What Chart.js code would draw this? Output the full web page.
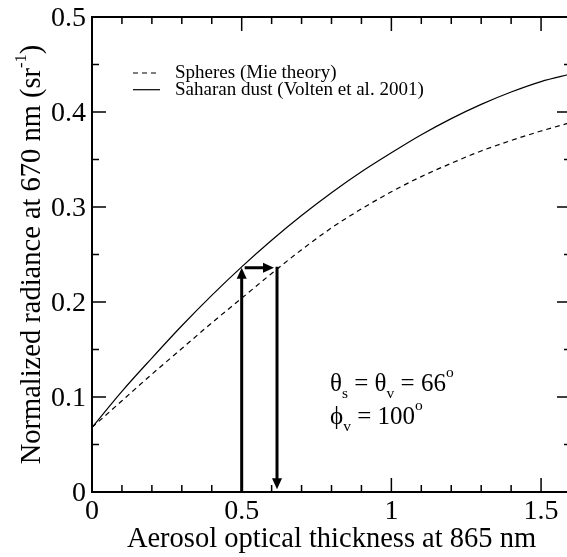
<!DOCTYPE html>
<html>
<head>
<meta charset="utf-8">
<script src="https://cdn.jsdelivr.net/npm/chart.js@4"></script>
<style>
  html, body { margin: 0; padding: 0; background: #fff; overflow: hidden; }
  #wrap { width: 575px; height: 557px; }
</style>
</head>
<body>
<div id="wrap"><canvas id="myChart"></canvas></div>
<script>
// aerosol optical thickness (x) and normalized radiance (y)
const aot = [0, 0.1, 0.2, 0.3, 0.4, 0.5, 0.6, 0.7, 0.8, 0.9, 1.0, 1.1, 1.2, 1.3, 1.4, 1.5, 1.6];
const spheres = [0.068, 0.096, 0.124, 0.151, 0.178, 0.204, 0.230, 0.255, 0.278, 0.298, 0.316, 0.332, 0.346, 0.359, 0.370, 0.380, 0.389];
const saharan = [0.068, 0.106, 0.141, 0.175, 0.207, 0.237, 0.265, 0.291, 0.315, 0.337, 0.357, 0.376, 0.393, 0.408, 0.421, 0.432, 0.440];
const seriesLabels = ['Spheres (Mie theory)', 'Saharan dust (Volten et al. 2001)'];

const xTicks = [0, 0.5, 1, 1.5];
const xTickLabels = ['0', '0.5', '1', '1.5'];
const yTicks = [0, 0.1, 0.2, 0.3, 0.4, 0.5];
const yTickLabels = ['0', '0.1', '0.2', '0.3', '0.4', '0.5'];

// retrieval arrows: up at tau=0.5 to dust curve, across to spheres curve, back down
const arrowX = [0.5, 0.618];
const arrowTop = 0.236;
const arrowBottom = 0.003;

// text is set at a small base size and scaled up, so large glyphs keep their serifs
const BASE = 16;
const FAMILY = '"Liberation Serif", serif';

function text(ctx, str, x, y, size, align) {
    ctx.save();
    ctx.translate(x, y);
    ctx.scale(size / BASE, size / BASE);
    ctx.font = BASE + 'px ' + FAMILY;
    ctx.textAlign = align || 'left';
    ctx.textBaseline = 'alphabetic';
    ctx.fillText(str, 0, 0);
    ctx.restore();
}

function textWidth(ctx, str, size) {
    ctx.save();
    ctx.font = BASE + 'px ' + FAMILY;
    const w = ctx.measureText(str).width * size / BASE;
    ctx.restore();
    return w;
}

function drawRich(ctx, x, y, parts, size) {
    let cx = x;
    for (const p of parts) {
        const s = (p.sub || p.sup) ? size * (p.scale || 0.62) : size;
        const dy = p.sub ? size * 0.28 : p.sup ? -size * (p.rise || 0.55) : 0;
        text(ctx, p.t, cx, y + dy, s);
        cx += textWidth(ctx, p.t, s);
    }
    return cx - x;
}

function richWidth(ctx, parts, size) {
    return parts.reduce((w, p) => w + textWidth(ctx, p.t, (p.sub || p.sup) ? size * (p.scale || 0.62) : size), 0);
}

function arrowHead(ctx, tx, ty, dx, dy) {
    const len = 11, half = 5;
    const bx = tx - dx * len, by = ty - dy * len;
    ctx.beginPath();
    ctx.moveTo(tx, ty);
    ctx.lineTo(bx - dy * half, by + dx * half);
    ctx.lineTo(bx + dy * half, by - dx * half);
    ctx.closePath();
    ctx.fill();
}

const arrows = {
    id: 'arrows',
    afterDatasetsDraw(chart) {
        const { ctx, scales: { x, y } } = chart;
        const x1 = x.getPixelForValue(arrowX[0]);
        const x2 = x.getPixelForValue(arrowX[1]);
        const yt = y.getPixelForValue(arrowTop);
        const y0 = y.getPixelForValue(0);
        const yb = y.getPixelForValue(arrowBottom);
        ctx.save();
        ctx.strokeStyle = '#000';
        ctx.fillStyle = '#000';
        ctx.lineWidth = 3;
        ctx.beginPath();
        ctx.moveTo(x1, y0);
        ctx.lineTo(x1, yt + 9);
        ctx.moveTo(x1 + 3, yt);
        ctx.lineTo(x2 - 12, yt);
        ctx.moveTo(x2, yt - 1);
        ctx.lineTo(x2, yb - 9);
        ctx.stroke();
        arrowHead(ctx, x1, yt, 0, -1);
        arrowHead(ctx, x2 - 3, yt, 1, 0);
        arrowHead(ctx, x2, yb, 0, 1);
        ctx.restore();
    }
};

const frame = {
    id: 'frame',
    afterDraw(chart) {
        const { ctx, chartArea: { left, right, top, bottom }, scales: { x, y } } = chart;
        ctx.save();
        ctx.strokeStyle = '#000';
        ctx.fillStyle = '#000';

        // ticks, inward on all four sides
        ctx.lineWidth = 1.5;
        ctx.beginPath();
        for (let i = 0; i <= 16; i++) {
            const px = x.getPixelForValue(i / 10);
            const len = i % 5 === 0 ? 14 : 7;
            ctx.moveTo(px, bottom); ctx.lineTo(px, bottom - len);
            ctx.moveTo(px, top); ctx.lineTo(px, top + len);
        }
        for (let i = 0; i <= 10; i++) {
            const py = y.getPixelForValue(i * 0.05);
            const len = i % 2 === 0 ? 14 : 7;
            ctx.moveTo(left, py); ctx.lineTo(left + len, py);
            ctx.moveTo(right, py); ctx.lineTo(right - len, py);
        }
        ctx.stroke();

        ctx.lineWidth = 2;
        ctx.strokeRect(left, top, right - left, bottom - top);

        // tick labels
        xTicks.forEach((v, i) => text(ctx, xTickLabels[i], x.getPixelForValue(v), bottom + 27, 28, 'center'));
        yTicks.forEach((v, i) => text(ctx, yTickLabels[i], left - 6, y.getPixelForValue(v) + 9, 28, 'right'));

        // axis titles
        text(ctx, 'Aerosol optical thickness at 865 nm', (left + right) / 2, 547, 28.5, 'center');

        const yTitle = [
            { t: 'Normalized radiance at 670 nm (sr' },
            { t: '-1', sup: true, scale: 0.58, rise: 0.5 },
            { t: ')' }
        ];
        const w = richWidth(ctx, yTitle, 28.5);
        ctx.save();
        ctx.translate(40, (top + bottom) / 2);
        ctx.rotate(-Math.PI / 2);
        drawRich(ctx, -w / 2, 0, yTitle, 28.5);
        ctx.restore();

        // legend
        chart.data.datasets.forEach((ds, i) => {
            const ly = 73 + i * 16.7;
            ctx.lineWidth = 1.2;
            ctx.setLineDash(ds.borderDash || []);
            ctx.beginPath();
            ctx.moveTo(133, ly);
            ctx.lineTo(160, ly);
            ctx.stroke();
            ctx.setLineDash([]);
            text(ctx, ds.label, 175, ly + 5, 19);
        });

        // viewing geometry note
        drawRich(ctx, 330, 391, [
            { t: 'θ' }, { t: 's', sub: true }, { t: ' = θ' }, { t: 'v', sub: true },
            { t: ' = 66' }, { t: 'o', sup: true }
        ], 25);
        drawRich(ctx, 330, 424, [
            { t: 'ϕ' }, { t: 'v', sub: true }, { t: ' = 100' }, { t: 'o', sup: true }
        ], 25);

        ctx.restore();
    }
};

const chart = new Chart(document.getElementById('myChart'), {
    type: 'line',
    data: {
        datasets: [{
            label: seriesLabels[0],
            data: aot.map((v, i) => ({ x: v, y: spheres[i] })),
            borderColor: '#000',
            borderWidth: 1.2,
            borderDash: [5, 4],
            cubicInterpolationMode: 'monotone',
            pointRadius: 0
        }, {
            label: seriesLabels[1],
            data: aot.map((v, i) => ({ x: v, y: saharan[i] })),
            borderColor: '#000',
            borderWidth: 1.2,
            cubicInterpolationMode: 'monotone',
            pointRadius: 0
        }]
    },
    options: {
        responsive: true,
        maintainAspectRatio: false,
        animation: false,
        layout: { padding: { left: 92, top: 17, right: 4, bottom: 65 } },
        scales: {
            x: { type: 'linear', min: 0, max: 1.6, display: false },
            y: { type: 'linear', min: 0, max: 0.5, display: false }
        },
        plugins: { legend: { display: false }, tooltip: { enabled: false } }
    },
    plugins: [arrows, frame]
});
</script>
</body>
</html>
